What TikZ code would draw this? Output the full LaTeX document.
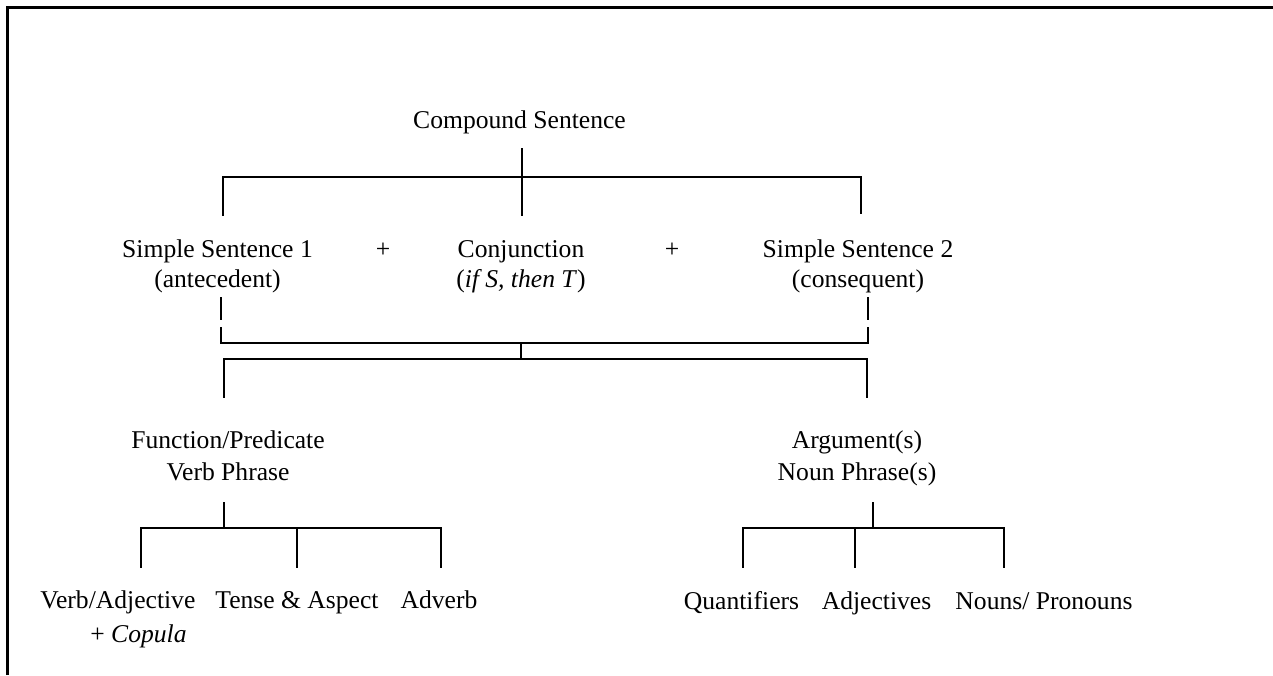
\documentclass[tikz,border=0pt]{standalone}
\usepackage{fontspec}
\setmainfont{Liberation Serif}
\newcommand{\twoline}[3][0pt]{\begin{tabular}[t]{@{}c@{}}#2\\[#1]#3\end{tabular}}
\begin{document}
\begin{tikzpicture}[x=0.5pt,y=-0.5pt,
  txt/.style={anchor=base, inner sep=0pt, font=\fontsize{12.8}{15}\selectfont},
  ln/.style={line width=0.75pt, line cap=rect},
  thk/.style={line width=1.1pt},
  frame/.style={line width=1.5pt}]
\useasboundingbox (0,0) rectangle (1273,675);
% frame
\coordinate (fa) at (7.5,675);
\coordinate (fb) at (7.5,7.5);
\coordinate (fc) at (1273,7.5);
\draw[frame] (fa) -- (fb) -- (fc);

% nodes
\node[txt] (cs) at (519.5,128) {Compound Sentence};
\node[txt] (s1) at (217.5,257) {\twoline{Simple Sentence 1}{(antecedent)}};
\node[txt] (p1) at (383,257) {+};
\node[txt] (cj) at (521,257) {\twoline{Conjunction}{(\textit{if S, then T})}};
\node[txt] (p2) at (672,257) {+};
\node[txt] (s2) at (858,257) {\twoline{Simple Sentence 2}{(consequent)}};
\node[txt] (fp) at (228,448) {\twoline[1pt]{Function/Predicate}{Verb Phrase}};
\node[txt] (ar) at (857,448) {\twoline[1pt]{Argument(s)}{Noun Phrase(s)}};
\node[txt, anchor=base west] (va) at (40,608) {\begin{tabular}[t]{@{}l@{}}Verb/Adjective\\[2pt]\hspace*{25pt}+ \textit{Copula}\end{tabular}};
\node[txt] (ta) at (297,608) {Tense \& Aspect};
\node[txt] (av) at (439,608) {Adverb};
\node[txt] (qu) at (741.5,609) {Quantifiers};
\node[txt] (aj) at (876.5,609) {Adjectives};
\node[txt] (np) at (1044,609) {Nouns/ Pronouns};

% level 1
\coordinate (c0) at (522,149);
\coordinate (c1) at (522,215);
\coordinate (l1) at (223,177);
\coordinate (l2) at (223,215);
\coordinate (r1) at (861,177);
\coordinate (r2) at (861,213);
\draw[ln] (c0) -- (c1);
\draw[ln] (l2) -- (l1) -- (r1) -- (r2);

% bracket
\coordinate (ba1) at (221,297);
\coordinate (ba2) at (221,320);
\coordinate (ba3) at (221,327);
\coordinate (bb1) at (868,297);
\coordinate (bb2) at (868,320);
\coordinate (bb3) at (868,327);
\coordinate (bl) at (221,343);
\coordinate (br) at (868,343);
\draw[thk] (ba1) -- (ba2);
\draw[thk] (bb1) -- (bb2);
\draw[thk] (ba3) -- (bl) -- (br) -- (bb3);

% level 2
\coordinate (m0) at (521,343);
\coordinate (m1) at (521,359);
\coordinate (h1) at (224,359);
\coordinate (h2) at (867,359);
\coordinate (h1d) at (224,397);
\coordinate (h2d) at (867,397);
\draw[ln] (m0) -- (m1);
\draw[ln] (h1d) -- (h1) -- (h2) -- (h2d);

% level 3 left
\coordinate (fs0) at (224,503);
\coordinate (fs1) at (224,528);
\coordinate (fl) at (141,528);
\coordinate (fm) at (297,528);
\coordinate (fr) at (441,528);
\coordinate (fld) at (141,567);
\coordinate (fmd) at (297,567);
\coordinate (frd) at (441,567);
\draw[ln] (fs0) -- (fs1);
\draw[ln] (fld) -- (fl) -- (fr) -- (frd);
\draw[ln] (fm) -- (fmd);

% level 3 right
\coordinate (as0) at (873,503);
\coordinate (as1) at (873,528);
\coordinate (al) at (743,528);
\coordinate (am) at (855,528);
\coordinate (arr) at (1004,528);
\coordinate (ald) at (743,567);
\coordinate (amd) at (855,567);
\coordinate (ard) at (1004,567);
\draw[ln] (as0) -- (as1);
\draw[ln] (ald) -- (al) -- (arr) -- (ard);
\draw[ln] (am) -- (amd);
\end{tikzpicture}
\end{document}
